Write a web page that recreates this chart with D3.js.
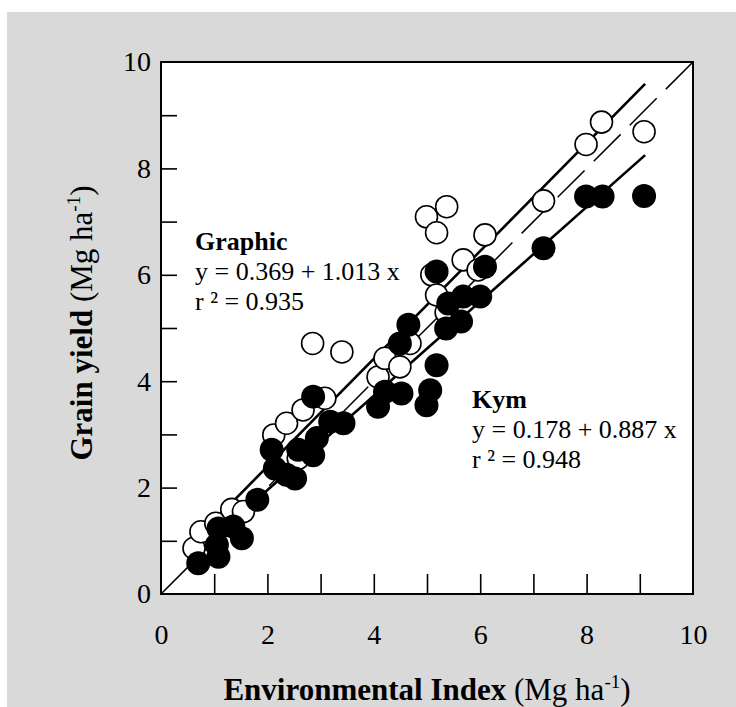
<!DOCTYPE html>
<html>
<head>
<meta charset="utf-8">
<script src="https://cdn.jsdelivr.net/npm/d3@7"></script>
<style>
  body { margin: 0; background: #fff; }
  text { font-family: 'Liberation Serif', 'Times New Roman', serif; fill: #000; }
</style>
</head>
<body>
<script>
// Graphic (open circles)
const graphicX = [0.62, 0.75, 1.03, 1.33, 1.55, 2.12, 2.36, 2.58, 2.67, 2.85, 3.08, 3.40, 4.08, 4.21, 4.49, 4.68, 4.99, 5.09, 5.18, 5.18, 5.37, 5.36, 5.68, 5.96, 6.09, 7.19, 7.99, 8.28, 9.08];
const graphicY = [0.86, 1.17, 1.33, 1.59, 1.55, 2.99, 3.21, 2.55, 3.46, 4.71, 3.68, 4.55, 4.08, 4.43, 4.27, 4.71, 7.09, 6.00, 5.62, 6.79, 7.28, 5.29, 6.28, 6.09, 6.75, 7.39, 8.45, 8.87, 8.69];

// Kym (filled circles)
const kymX = [0.70, 1.05, 1.08, 1.08, 1.36, 1.52, 1.81, 2.08, 2.14, 2.36, 2.52, 2.58, 2.86, 2.86, 2.93, 3.18, 3.43, 4.08, 4.21, 4.49, 4.52, 4.65, 4.99, 5.06, 5.18, 5.18, 5.36, 5.40, 5.64, 5.68, 6.00, 6.09, 7.19, 7.99, 8.30, 9.08];
const kymY = [0.58, 0.92, 0.70, 1.23, 1.27, 1.05, 1.77, 2.71, 2.36, 2.24, 2.17, 2.71, 3.71, 2.61, 2.93, 3.24, 3.21, 3.52, 3.80, 4.71, 3.77, 5.06, 3.55, 3.83, 4.30, 6.06, 4.99, 5.46, 5.12, 5.59, 5.59, 6.15, 6.50, 7.47, 7.47, 7.48];

// fitted lines: intercept, slope, x range
const fits = [
  { name: 'Graphic', a: 0.369, b: 1.013, x0: 0.7, x1: 9.1 },
  { name: 'Kym', a: 0.178, b: 0.887, x0: 0.7, x1: 9.1 }
];

const xTicks = [0, 2, 4, 6, 8, 10];
const yTicks = [0, 2, 4, 6, 8, 10];
const minorTicks = d3.range(1, 10);

const width = 736;
const height = 707;
const margin = { left: 161, top: 62, right: 43, bottom: 113 };
const plotW = width - margin.left - margin.right;
const plotH = height - margin.top - margin.bottom;

const svg = d3.select('body')
  .append('svg')
  .attr('width', width)
  .attr('height', height);

svg.append('rect')
  .attr('x', 7).attr('y', 12)
  .attr('width', width - 7).attr('height', height - 12)
  .attr('fill', '#d9d9d9');

const x = d3.scaleLinear().domain([0, 10]).range([0, plotW]);
const y = d3.scaleLinear().domain([0, 10]).range([plotH, 0]);

const g = svg.append('g')
  .attr('transform', `translate(${margin.left},${margin.top})`);

g.append('rect')
  .attr('width', plotW).attr('height', plotH)
  .attr('fill', '#fff');

// inward ticks
g.append('g')
  .attr('transform', `translate(0,${plotH})`)
  .call(d3.axisBottom(x).tickValues(minorTicks).tickSize(-20).tickFormat(''))
  .call(a => a.select('.domain').remove())
  .selectAll('line').attr('stroke-width', 1.6);

g.append('g')
  .call(d3.axisLeft(y).tickValues(minorTicks).tickSize(-16).tickFormat(''))
  .call(a => a.select('.domain').remove())
  .selectAll('line').attr('stroke-width', 1.6);

// tick labels
g.append('g')
  .attr('transform', `translate(0,${plotH})`)
  .call(d3.axisBottom(x).tickValues(xTicks).tickSize(0).tickPadding(30).tickFormat(d3.format('d')))
  .call(a => a.select('.domain').remove())
  .selectAll('text')
  .style('font-size', '28px')
  .style('font-family', "'Liberation Serif', serif");

g.append('g')
  .call(d3.axisLeft(y).tickValues(yTicks).tickSize(0).tickPadding(10).tickFormat(d3.format('d')))
  .call(a => a.select('.domain').remove())
  .selectAll('text')
  .style('font-size', '28px')
  .style('font-family', "'Liberation Serif', serif");

// 1:1 line
g.append('line')
  .attr('x1', x(0)).attr('y1', y(0))
  .attr('x2', x(10)).attr('y2', y(10))
  .attr('stroke', '#000')
  .attr('stroke-width', 1.5)
  .attr('stroke-dasharray', '38,13');

// regression lines
g.selectAll('.fit')
  .data(fits)
  .enter().append('line')
    .attr('class', 'fit')
    .attr('x1', d => x(d.x0)).attr('y1', d => y(d.a + d.b * d.x0))
    .attr('x2', d => x(d.x1)).attr('y2', d => y(d.a + d.b * d.x1))
    .attr('stroke', '#000')
    .attr('stroke-width', 2.6);

const graphic = graphicX.map((v, i) => ({ x: v, y: graphicY[i] }));
const kym = kymX.map((v, i) => ({ x: v, y: kymY[i] }));

g.append('g')
  .selectAll('circle')
  .data(graphic)
  .enter().append('circle')
    .attr('cx', d => x(d.x))
    .attr('cy', d => y(d.y))
    .attr('r', 11)
    .attr('fill', '#fff')
    .attr('stroke', '#000')
    .attr('stroke-width', 1.6);

g.append('g')
  .selectAll('circle')
  .data(kym)
  .enter().append('circle')
    .attr('cx', d => x(d.x))
    .attr('cy', d => y(d.y))
    .attr('r', 12)
    .attr('fill', '#000');

// frame
g.append('rect')
  .attr('width', plotW).attr('height', plotH)
  .attr('fill', 'none')
  .attr('stroke', '#000')
  .attr('stroke-width', 2);

// annotations
const notes = [
  { x: 195, y: 250, lines: ['Graphic', 'y = 0.369 + 1.013 x', 'r ² = 0.935'] },
  { x: 472, y: 408, lines: ['Kym', 'y = 0.178 + 0.887 x', 'r ² = 0.948'] }
];
notes.forEach(n => {
  n.lines.forEach((t, i) => {
    svg.append('text')
      .attr('x', n.x)
      .attr('y', n.y + i * 30)
      .style('font-size', '26px')
      .style('font-weight', i === 0 ? 'bold' : 'normal')
      .text(t);
  });
});

// axis titles
const xt = svg.append('text')
  .attr('x', margin.left + plotW / 2)
  .attr('y', 700)
  .attr('text-anchor', 'middle')
  .style('font-size', '31px');
xt.append('tspan').style('font-weight', 'bold').text('Environmental Index');
xt.append('tspan').text(' (Mg ha');
xt.append('tspan').attr('dy', -12).style('font-size', '19px').text('-1');
xt.append('tspan').attr('dy', 12).text(')');

const yt = svg.append('text')
  .attr('transform', `translate(92,${margin.top + plotH / 2 - 5}) rotate(-90)`)
  .attr('text-anchor', 'middle')
  .style('font-size', '31px');
yt.append('tspan').style('font-weight', 'bold').text('Grain yield');
yt.append('tspan').text(' (Mg ha');
yt.append('tspan').attr('dy', -12).style('font-size', '19px').text('-1');
yt.append('tspan').attr('dy', 12).text(')');
</script>
</body>
</html>
